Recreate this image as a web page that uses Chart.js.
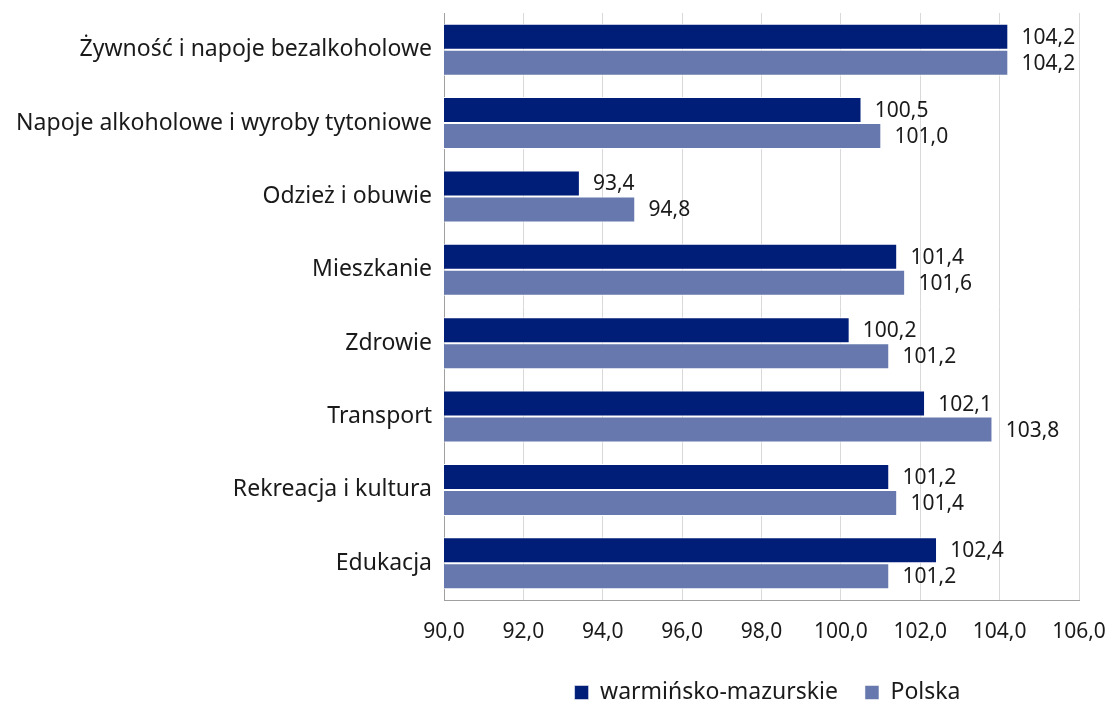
<!DOCTYPE html>
<html>
<head>
<meta charset="utf-8">
<script src="https://cdn.jsdelivr.net/npm/chart.js@4.4.1/dist/chart.umd.min.js"></script>
<style>
  html, body { margin: 0; padding: 0; background: #fff; }
  #wrap { width: 1109px; height: 704px; }
</style>
</head>
<body>
<div id="wrap"><canvas id="grafik"></canvas></div>
<script>
const categories = [
  "Żywność i napoje bezalkoholowe",
  "Napoje alkoholowe i wyroby tytoniowe",
  "Odzież i obuwie",
  "Mieszkanie",
  "Zdrowie",
  "Transport",
  "Rekreacja i kultura",
  "Edukacja",
];
const warmMaz = [104.2, 100.5, 93.4, 101.4, 100.2, 102.1, 101.2, 102.4];
const polska = [104.2, 101.0, 94.8, 101.6, 101.2, 103.8, 101.4, 101.2];
const xTicks = [90, 92, 94, 96, 98, 100, 102, 104, 106];

const fmt = (v) => v.toFixed(1).replace(".", ",");
const FONT = "'Noto Sans', sans-serif";

Chart.defaults.font.family = FONT;
Chart.defaults.font.size = 21;
Chart.defaults.color = "#1a1a1a";

// podpisy wartości na końcu słupków
const valueLabels = {
  id: "valueLabels",
  afterDatasetsDraw(chart) {
    const ctx = chart.ctx;
    ctx.save();
    ctx.font = "21px " + FONT;
    ctx.fillStyle = "#1a1a1a";
    ctx.textAlign = "left";
    ctx.textBaseline = "middle";
    chart.data.datasets.forEach((ds, i) => {
      chart.getDatasetMeta(i).data.forEach((bar, j) => {
        ctx.fillText(fmt(ds.data[j]), bar.x + 14, bar.y + 1);
      });
    });
    ctx.restore();
  },
};

// legenda przesunięta pod obszar wykresu
const moveLegend = {
  id: "moveLegend",
  afterLayout(chart) {
    const lg = chart.legend;
    const dx = 228, dy = -3;
    lg.left += dx; lg.right += dx;
    lg.top += dy; lg.bottom += dy;
  },
};

new Chart(document.querySelector("#grafik"), {
  type: "bar",
  data: {
    labels: categories,
    datasets: [
      {
        label: "warmińsko-mazurskie",
        data: warmMaz,
        backgroundColor: "#001d77",
        borderColor: "#ffffff",
        borderWidth: { top: 1, bottom: 1, left: 0, right: 0 },
      },
      {
        label: "Polska",
        data: polska,
        backgroundColor: "#6678ae",
        borderColor: "#ffffff",
        borderWidth: { top: 1, bottom: 1, left: 0, right: 0 },
      },
    ],
  },
  options: {
    indexAxis: "y",
    responsive: true,
    maintainAspectRatio: false,
    animation: false,
    layout: { padding: { top: 13, left: 0, right: 30, bottom: -13 } },
    datasets: { bar: { categoryPercentage: 0.707, barPercentage: 1 } },
    scales: {
      x: {
        min: 90,
        max: 106,
        afterBuildTicks: (s) => { s.ticks = xTicks.map((v) => ({ value: v })); },
        ticks: { callback: (v) => fmt(v), padding: 19, maxRotation: 0 },
        grid: { color: "#d9d9d9", drawTicks: false },
        border: { color: "#a0a0a0" },
        afterFit: (s) => { s.height = 57; s.paddingLeft = 0; s.paddingRight = 0; },
      },
      y: {
        ticks: { padding: 12, font: { size: 23 } },
        grid: { display: false, drawTicks: false },
        border: { color: "#a0a0a0" },
        afterFit: (s) => { s.width = 444; s.paddingTop = 0; s.paddingBottom = 0; },
      },
    },
    plugins: {
      legend: {
        position: "bottom",
        labels: { boxWidth: 14, boxHeight: 14, padding: 27, font: { size: 23 } },
      },
      tooltip: { enabled: false },
    },
  },
  plugins: [valueLabels, moveLegend],
});
</script>
</body>
</html>
